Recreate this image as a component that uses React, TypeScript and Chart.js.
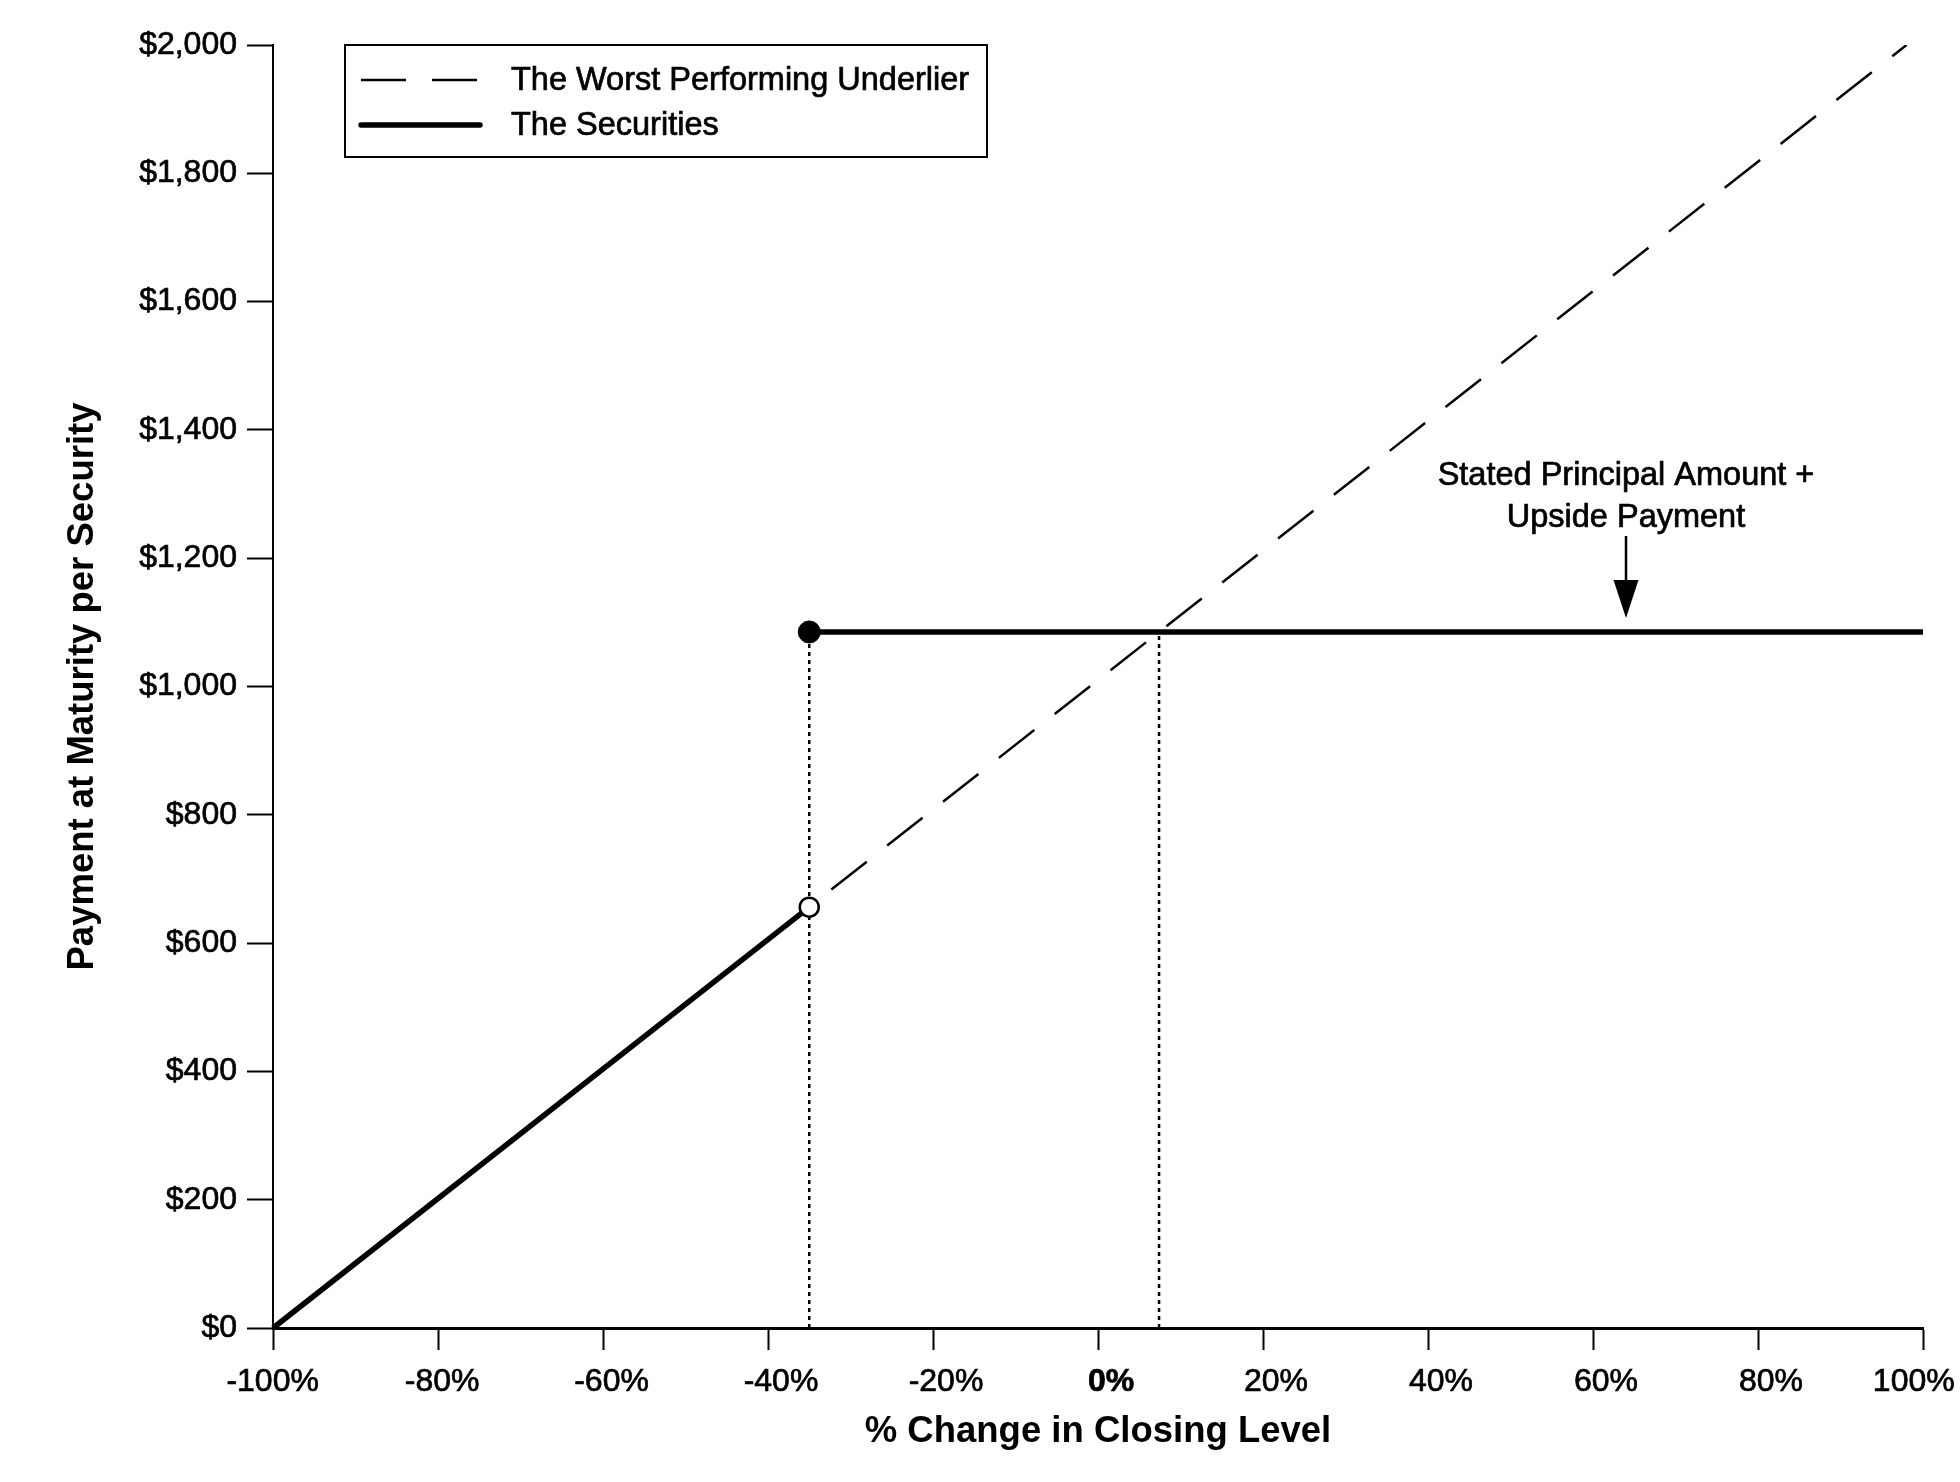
import React, { useEffect, useRef } from 'react';
import { Chart, registerables } from 'chart.js';

Chart.register(...registerables);

const FONT = '"Liberation Sans", Arial, Helvetica, sans-serif';

// x axis: % change in closing level of the worst performing underlier
const xTickValues = [-100, -80, -60, -40, -20, 0, 20, 40, 60, 80, 100];
// y axis: payment at maturity per security
const yTickValues = [0, 200, 400, 600, 800, 1000, 1200, 1400, 1600, 1800, 2000];

// The Worst Performing Underlier (as drawn: reaches $2,000 just short of +100%)
const underlierX = [-100, 98];
const underlierY = [0, 2000];

// The Securities (below barrier: tracks the underlier, above: principal + upside)
const belowX = [-100, -35];
const belowY = [0, 656];
const aboveX = [-35, 100];
const aboveY = [1085, 1085];

// dotted guides
const barrierX = -35;
const crossX = 7.4;
const upsideValue = 1085;

// annotation arrow
const arrowAtX = 64;
const annotationLines = ['Stated Principal Amount +', 'Upside Payment'];

// tick labels sit a little right of their ticks, except at the ends
const xLabelPad: Record<number, string> = { [-100]: '   ', [-80]: '  ', [-60]: ' ', 100: '     ' };

const pts = (xs: number[], ys: number[]) => xs.map((x, i) => ({ x, y: ys[i] }));

const heavyText = (ctx: CanvasRenderingContext2D, text: string, x: number, y: number) => {
  ctx.fillText(text, x, y);
  ctx.lineWidth = 0.7;
  ctx.strokeStyle = '#000';
  ctx.strokeText(text, x, y);
};

const legendPlugin = {
  id: 'boxedLegend',
  afterDraw(chart: any) {
    const { ctx, chartArea } = chart;
    const left = chartArea.left + 72;
    const top = chartArea.top;
    const w = 642;
    const h = 112;
    ctx.save();
    ctx.fillStyle = '#fff';
    ctx.fillRect(left, top, w, h);
    ctx.strokeStyle = '#000';
    ctx.lineWidth = 2;
    ctx.strokeRect(left, top, w, h);

    const rows = [
      { ds: chart.data.datasets[3], y: top + 35 },
      { ds: chart.data.datasets[2], y: top + 80 },
    ];
    rows.forEach(({ ds, y }) => {
      ctx.beginPath();
      ctx.setLineDash(ds.borderDash || []);
      ctx.lineWidth = ds.borderWidth;
      ctx.lineCap = ds.borderDash ? 'butt' : 'round';
      ctx.strokeStyle = ds.borderColor;
      ctx.moveTo(left + 16, y);
      ctx.lineTo(left + 135, y);
      ctx.stroke();
      ctx.setLineDash([]);
      ctx.fillStyle = '#000';
      ctx.font = `32.5px ${FONT}`;
      ctx.textBaseline = 'middle';
      ctx.textAlign = 'left';
      heavyText(ctx, ds.label, left + 166, y + 1);
    });
    ctx.restore();
  },
};

const arrowPlugin = {
  id: 'upsideArrow',
  afterDatasetsDraw(chart: any) {
    const { ctx, scales } = chart;
    const x = scales.x.getPixelForValue(arrowAtX);
    const lineY = scales.y.getPixelForValue(upsideValue);
    const tip = lineY - 14;
    const shaftTop = tip - 82;
    ctx.save();
    ctx.strokeStyle = '#000';
    ctx.fillStyle = '#000';
    ctx.lineWidth = 2.5;
    ctx.beginPath();
    ctx.moveTo(x, shaftTop);
    ctx.lineTo(x, tip - 30);
    ctx.stroke();
    ctx.beginPath();
    ctx.moveTo(x, tip);
    ctx.lineTo(x - 12.5, tip - 38);
    ctx.lineTo(x + 12.5, tip - 38);
    ctx.closePath();
    ctx.fill();
    ctx.font = `32.5px ${FONT}`;
    ctx.textAlign = 'center';
    ctx.textBaseline = 'middle';
    heavyText(ctx, annotationLines[1], x, shaftTop - 18);
    heavyText(ctx, annotationLines[0], x, shaftTop - 60);
    ctx.restore();
  },
};

const App: React.FC = () => {
  const canvasRef = useRef<HTMLCanvasElement>(null);
  const chartRef = useRef<Chart | null>(null);

  useEffect(() => {
    if (chartRef.current) chartRef.current.destroy();
    if (!canvasRef.current) return;

    Chart.defaults.font.family = FONT;
    Chart.defaults.color = '#000';

    const guide = (x: number) => ({
      label: 'guide',
      data: pts([x, x], [0, upsideValue]),
      borderColor: '#000',
      borderWidth: 2.5,
      borderDash: [4, 4],
      pointRadius: 0,
      fill: false,
    });

    chartRef.current = new Chart(canvasRef.current, {
      type: 'line',
      data: {
        datasets: [
          {
            label: 'open',
            data: pts([barrierX], [belowY[1]]),
            showLine: false,
            pointRadius: 9.5,
            pointBackgroundColor: '#fff',
            pointBorderColor: '#000',
            pointBorderWidth: 2.5,
          },
          {
            label: 'closed',
            data: pts([barrierX], [aboveY[0]]),
            showLine: false,
            pointRadius: 11,
            pointBackgroundColor: '#000',
            pointBorderColor: '#000',
            pointBorderWidth: 1,
          },
          {
            label: 'The Securities',
            data: [...pts(belowX, belowY), { x: barrierX, y: null }, ...pts(aboveX, aboveY)],
            borderColor: '#000',
            borderWidth: 5.5,
            pointRadius: 0,
            spanGaps: false,
            fill: false,
            clip: 4,
          },
          {
            label: 'The Worst Performing Underlier',
            data: pts(underlierX, underlierY),
            borderColor: '#000',
            borderWidth: 2.5,
            borderDash: [45, 26],
            pointRadius: 0,
            fill: false,
          },
          guide(barrierX),
          guide(crossX),
        ] as any,
      },
      options: {
        animation: false,
        responsive: true,
        maintainAspectRatio: false,
        layout: { padding: { left: 58, right: 37, top: 45, bottom: 0 } },
        plugins: {
          legend: { display: false },
          tooltip: { enabled: false },
        },
        scales: {
          x: {
            type: 'linear',
            min: xTickValues[0],
            max: xTickValues[xTickValues.length - 1],
            afterBuildTicks: (scale: any) => {
              scale.ticks = xTickValues.map((value) => ({ value }));
            },
            afterFit: (scale: any) => {
              scale.height = 154;
              scale.paddingLeft = 0;
              scale.paddingRight = 0;
            },
            ticks: {
              autoSkip: false,
              maxRotation: 0,
              padding: 13,
              labelOffset: 13,
              color: '#000',
              textStrokeColor: '#000',
              textStrokeWidth: 0.7,
              font: (ctx: any) => ({
                family: FONT,
                size: 32,
                weight: ctx.tick && ctx.tick.value === 0 ? 'bold' : 'normal',
              }),
              callback: (v: any) => `${v}%${xLabelPad[v] || ''}`,
            },
            grid: {
              drawOnChartArea: false,
              drawTicks: true,
              tickLength: 22,
              tickColor: '#000',
              tickWidth: 2,
            },
            border: { display: true, color: '#000', width: 3 },
            title: {
              display: true,
              text: '% Change in Closing Level',
              color: '#000',
              font: { family: FONT, size: 36.5, weight: 'bold' },
              padding: { top: 4, bottom: 28 },
            },
          },
          y: {
            type: 'linear',
            min: yTickValues[0],
            max: yTickValues[yTickValues.length - 1],
            afterBuildTicks: (scale: any) => {
              scale.ticks = yTickValues.map((value) => ({ value }));
            },
            afterFit: (scale: any) => {
              scale.width = 273 - 58;
              scale.paddingTop = 0;
              scale.paddingBottom = 0;
            },
            ticks: {
              padding: 10,
              color: '#000',
              textStrokeColor: '#000',
              textStrokeWidth: 0.7,
              font: { family: FONT, size: 32 },
              callback: (v: any) => '$' + Number(v).toLocaleString('en-US'),
            },
            grid: {
              drawOnChartArea: false,
              drawTicks: true,
              tickLength: 26,
              tickColor: '#000',
              tickWidth: 2,
            },
            border: { display: true, color: '#000', width: 2 },
            title: {
              display: true,
              text: 'Payment at Maturity per Security',
              color: '#000',
              font: { family: FONT, size: 36.5, weight: 'bold' },
              padding: { top: 3, bottom: 4 },
            },
          },
        },
      },
      plugins: [arrowPlugin, legendPlugin],
    });

    return () => {
      if (chartRef.current) {
        chartRef.current.destroy();
        chartRef.current = null;
      }
    };
  }, []);

  return (
    <div style={{ position: 'absolute', left: 0, top: 0, width: 1960, height: 1482, background: '#fff' }}>
      <canvas ref={canvasRef} />
    </div>
  );
};

export default App;
